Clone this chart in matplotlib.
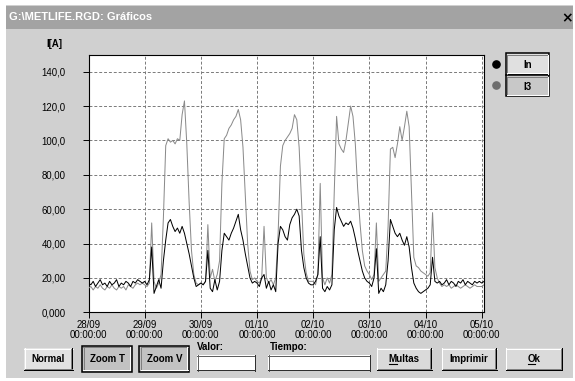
import matplotlib
matplotlib.use("Agg")
import matplotlib.pyplot as plt
from matplotlib.patches import Rectangle
from matplotlib.lines import Line2D
import numpy as np

# ---------------- data (hourly samples, 28/09 00:00 -> 05/10 01:00) ----------------
in_current = [
    17, 16, 18, 15, 17, 19, 16, 17, 15, 18, 16, 17, 19, 15, 17, 16, 18, 17, 15, 18, 17, 19, 18, 17,   # 28/09
    18, 16, 19, 38, 11, 15, 19, 14, 30, 42, 52, 54, 50, 47, 49, 46, 50, 46, 40, 34, 27, 20, 15, 16,   # 29/09
    17, 16, 18, 36, 14, 12, 19, 13, 18, 36, 46, 44, 42, 46, 49, 53, 57, 48, 42, 34, 27, 20, 17, 18,   # 30/09
    17, 15, 20, 22, 14, 18, 13, 16, 12, 40, 50, 48, 44, 42, 51, 55, 57, 60, 56, 36, 26, 20, 17, 16,   # 01/10
    16, 18, 22, 44, 14, 12, 15, 13, 16, 48, 61, 56, 53, 50, 52, 51, 53, 49, 43, 36, 30, 24, 20, 18,   # 02/10
    17, 15, 20, 37, 11, 14, 12, 16, 30, 54, 50, 46, 44, 46, 42, 39, 44, 38, 26, 17, 14, 12, 11, 12,   # 03/10
    13, 14, 16, 32, 18, 17, 18, 16, 17, 19, 16, 18, 17, 15, 18, 17, 19, 16, 18, 17, 16, 18, 17, 18,   # 04/10
    17, 18,                                                                                           # 05/10
]
i3_current = [
    14, 15, 13, 15, 14, 16, 14, 13, 15, 14, 16, 14, 13, 15, 14, 15, 13, 16, 15, 14, 16, 17, 16, 17,   # 28/09
    16, 15, 17, 52, 18, 14, 17, 22, 55, 97, 101, 99, 100, 98, 101, 100, 115, 123, 98, 64, 36, 22, 17, 16,   # 29/09
    17, 16, 18, 51, 20, 25, 18, 22, 30, 75, 101, 103, 107, 109, 112, 114, 118, 112, 96, 68, 40, 24, 19, 20,  # 30/09
    18, 17, 20, 50, 20, 17, 19, 16, 20, 45, 85, 97, 100, 102, 104, 107, 115, 112, 96, 65, 34, 23, 18, 18,   # 01/10
    18, 16, 22, 75, 20, 16, 20, 17, 22, 70, 114, 98, 95, 93, 100, 110, 120, 114, 98, 72, 52, 36, 27, 24,    # 02/10
    22, 19, 22, 52, 18, 20, 22, 24, 50, 95, 96, 90, 98, 108, 100, 108, 117, 108, 70, 32, 27, 26, 24, 23,    # 03/10
    22, 21, 23, 58, 26, 20, 17, 15, 16, 15, 16, 14, 15, 16, 15, 14, 15, 16, 15, 14, 15, 16, 15, 15,         # 04/10
    15, 16,                                                                                                  # 05/10
]
date_labels = ["28/09", "29/09", "30/09", "01/10", "02/10", "03/10", "04/10", "05/10"]
time_label = "00:00:00"
y_ticks = [0, 20, 40, 60, 80, 100, 120, 140]
y_tick_labels = ["0,000", "20,00", "40,00", "60,00", "80,00", "100,0", "120,0", "140,0"]
series_names = ["In", "I3"]
title = "G:\\METLIFE.RGD: Gráficos"
unit_label = "I[A]"

# ---------------- figure ----------------
plt.rcParams['font.family'] = ['Liberation Sans', 'DejaVu Sans']

W, H = 575, 381
fig = plt.figure(figsize=(W / 100, H / 100), dpi=100)
fig.patch.set_facecolor('white')


def rect(x0, y0, x1, y1, **kw):
    r = Rectangle((x0 / W, 1 - y1 / H), (x1 - x0) / W, (y1 - y0) / H,
                  transform=fig.transFigure, **kw)
    fig.add_artist(r)
    return r


def line(xs, ys, **kw):
    l = Line2D([x / W for x in xs], [1 - y / H for y in ys],
               transform=fig.transFigure, **kw)
    fig.add_artist(l)
    return l


def text(x, y, s, **kw):
    return fig.text(x / W, 1 - y / H, s, zorder=6, **kw)


LW = 0.72  # one pixel

# window body and title bar
rect(6, 5, 573, 378, fc='#d0d0d0', ec='none', zorder=0.1)
rect(6, 6, 573, 29, fc='#a3a3a3', ec='none', zorder=0.2)
text(9, 17.5, title, color='white', fontsize=8, fontweight='bold', va='center', ha='left')
text(567, 18, "×", color='black', fontsize=10, fontweight='bold', va='center', ha='center',
     family='DejaVu Sans')


def raised_button(x0, y0, x1, y1, label, face='#d6d6d6'):
    rect(x0, y0, x1, y1, fc=face, ec='none')
    line([x0, x1], [y0 + 0.5, y0 + 0.5], color='white', lw=LW)
    line([x0 + 0.5, x0 + 0.5], [y0, y1], color='white', lw=LW)
    line([x0, x1], [y1 - 0.5, y1 - 0.5], color='black', lw=LW)
    line([x1 - 0.5, x1 - 0.5], [y0, y1], color='black', lw=LW)
    line([x0 + 1, x1 - 1], [y1 - 1.5, y1 - 1.5], color='#808080', lw=LW)
    line([x1 - 1.5, x1 - 1.5], [y0 + 1, y1 - 1], color='#808080', lw=LW)
    return text((x0 + x1) / 2, (y0 + y1) / 2 + 0.5, label, fontsize=7, fontweight='bold',
                ha='center', va='center')


def pressed_button(x0, y0, x1, y1, label, face='#c2c2c2'):
    rect(x0, y0, x1, y1, fc=face, ec='black', lw=1.1)
    line([x0 + 1.5, x1 - 1.5], [y0 + 1.8, y0 + 1.8], color='#808080', lw=LW)
    line([x0 + 1.8, x0 + 1.8], [y0 + 1.5, y1 - 1.5], color='#808080', lw=LW)
    line([x0 + 1.5, x1 - 1.5], [y1 - 1.8, y1 - 1.8], color='#ffffff', lw=LW)
    line([x1 - 1.8, x1 - 1.8], [y0 + 1.5, y1 - 1.5], color='#ffffff', lw=LW)
    return text((x0 + x1) / 2 + 0.5, (y0 + y1) / 2 + 0.8, label, fontsize=7,
                fontweight='bold', ha='center', va='center')


def sunken_box(x0, y0, x1, y1):
    rect(x0, y0, x1, y1, fc='white', ec='none')
    line([x0, x1], [y0 + 0.5, y0 + 0.5], color='#606060', lw=LW)
    line([x0 + 0.5, x0 + 0.5], [y0, y1], color='#606060', lw=LW)
    line([x0, x1], [y1 - 0.5, y1 - 0.5], color='#303030', lw=LW)
    line([x1 - 0.5, x1 - 0.5], [y0, y1], color='#303030', lw=LW)


# bottom controls
raised_button(24, 348, 72.7, 370, "Normal", face='#e2e2e2')
pressed_button(81.7, 345.5, 131.7, 371.5, "Zoom T")
pressed_button(139, 345.5, 189, 371.5, "Zoom V")
text(197, 347.5, "Valor:", fontsize=7, fontweight='bold', ha='left', va='center')
sunken_box(197, 355, 255, 370.5)
text(270, 347.5, "Tiempo:", fontsize=7, fontweight='bold', ha='left', va='center')
sunken_box(268, 355, 370, 370.5)
t_multas = raised_button(376.7, 348, 431.7, 370, "Multas", face='#dadada')
raised_button(441.7, 348, 496.7, 370, "Imprimir", face='#dadada')
t_ok = raised_button(505.7, 348, 562.3, 370, "Ok", face='#dadada')

# legend
pressed_button(505.5, 53.5, 549.3, 75, series_names[0], face='#e0e0e0')
pressed_button(505.5, 75, 549.3, 96.5, series_names[1], face='#c8c8c8')
line([495.5], [64], marker='o', ms=5.2, color='black', ls='none')
line([495.5], [85], marker='o', ms=5.2, color='#6e6e6e', ls='none')

# unit label
text(54, 44, unit_label, fontsize=7, fontweight='bold', ha='center', va='center')

# ---------------- axes ----------------
x0px, x7px, xr = 88.5, 481.7, 484.0
ybot, ytop = 312.3, 54.5
ax = fig.add_axes([x0px / W, 1 - ybot / H, (xr - x0px) / W, (ybot - ytop) / H])
ax.set_zorder(5)
ax.set_facecolor('white')
day_px = (x7px - x0px) / 7.0
ax.set_xlim(0, (xr - x0px) / day_px)
ax.set_ylim(0, 150)

hours = np.arange(len(in_current)) / 24.0
ax.plot(hours, i3_current, color='#8a8a8a', lw=0.72, zorder=3)
ax.plot(hours, in_current, color='black', lw=0.72, zorder=4)

ax.set_xticks(range(len(date_labels)))
ax.set_xticklabels([f"{d}\n{time_label}" for d in date_labels], fontsize=6.9, linespacing=1.05)
ax.set_yticks(y_ticks)
ax.set_yticklabels(y_tick_labels, fontsize=6.9)
ax.tick_params(axis='y', direction='out', length=4, width=0.7, pad=12.5)
ax.tick_params(axis='x', direction='out', length=4, width=0.7, pad=1.5)
ax.grid(True, color='#7a7a7a', linestyle=(0, (3, 2)), linewidth=0.7, zorder=1)
for s in ax.spines.values():
    s.set_color('black')
    s.set_linewidth(0.8)

# underline accelerator letters
fig.canvas.draw()
r = fig.canvas.get_renderer()
for t, ch in ((t_multas, "M"), (t_ok, "O")):
    bb = t.get_window_extent(r)
    tmp = fig.text(0, 0, ch, fontsize=7, fontweight='bold')
    wch = tmp.get_window_extent(r).width
    tmp.remove()
    yb = bb.y0 + 1.0
    fig.add_artist(Line2D([bb.x0 / W, (bb.x0 + wch) / W], [yb / H, yb / H],
                          transform=fig.transFigure, color='black', lw=0.8, zorder=7))

fig.savefig("out.png", dpi=100, facecolor=fig.get_facecolor())
